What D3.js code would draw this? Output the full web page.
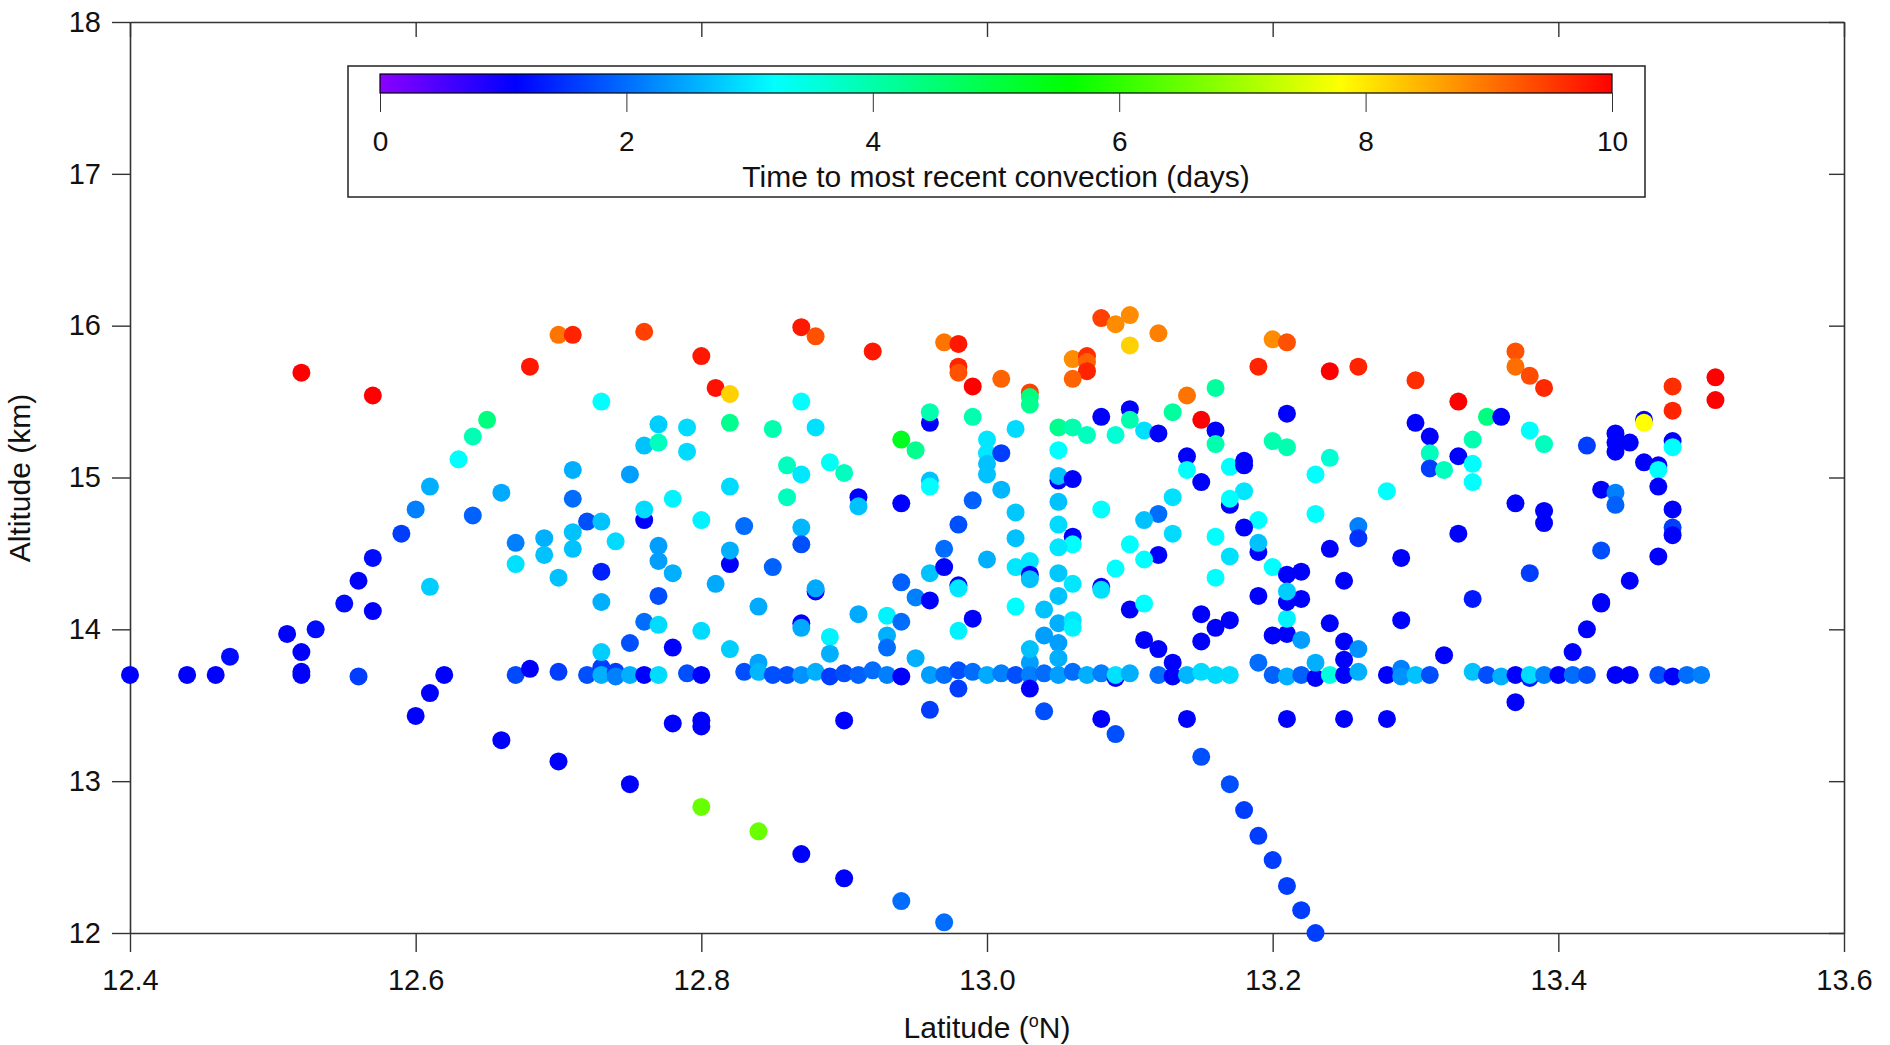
<!DOCTYPE html>
<html>
<head>
<meta charset="utf-8">
<script src="https://cdn.jsdelivr.net/npm/d3@7"></script>
<style>
    body { margin: 0; background: #fff; }
    text { font-family: "Liberation Sans", Arial, sans-serif; fill: #111; }
</style>
</head>
<body>
<div id="chart"></div>
<script>
// latitude (deg N) of each sample
var latitude = [
    12.40, 12.44, 12.46, 12.47, 12.51, 12.53, 12.52, 12.52, 12.52, 12.55,
    12.56, 12.57, 12.57, 12.56, 12.59, 12.60, 12.61, 12.61, 12.64, 12.66,
    12.63, 12.64, 12.65, 12.52, 12.57, 12.68, 12.67, 12.67, 12.69, 12.69,
    12.62, 12.61, 12.60, 12.66, 12.67, 12.68, 12.70, 12.72, 12.73, 12.73,
    12.74, 12.74, 12.75, 12.76, 12.77, 12.79, 12.80, 12.83, 12.84, 12.84,
    12.85, 12.86, 12.87, 12.88, 12.89, 12.90, 12.91, 12.92, 12.93, 12.94,
    12.96, 12.73, 12.75, 12.76, 12.77, 12.78, 12.80, 12.82, 12.84, 12.87,
    12.87, 12.89, 12.89, 12.91, 12.93, 12.93, 12.93, 12.94, 12.95, 12.95,
    12.96, 12.78, 12.80, 12.80, 12.90, 12.96, 12.70, 12.75, 12.80, 12.84,
    12.87, 12.90, 12.94, 12.97, 12.97, 12.98, 12.98, 12.99, 13.00, 13.01,
    13.02, 13.03, 13.03, 13.03, 13.04, 13.05, 13.05, 13.05, 13.06, 13.07,
    13.08, 13.09, 13.09, 13.10, 13.12, 13.13, 13.13, 13.14, 13.15, 13.16,
    13.17, 13.19, 13.20, 13.21, 13.22, 13.23, 13.23, 13.24, 12.98, 12.99,
    13.02, 13.04, 13.05, 13.06, 13.06, 13.04, 13.03, 13.10, 13.11, 13.11,
    13.12, 13.15, 13.16, 13.17, 13.15, 13.19, 13.20, 13.21, 13.21, 13.22,
    13.21, 13.22, 13.24, 13.04, 13.08, 13.09, 13.14, 13.21, 13.25, 13.15,
    13.17, 13.18, 13.19, 13.20, 13.21, 13.22, 13.23, 13.25, 13.25, 13.25,
    13.26, 13.26, 13.29, 13.28, 13.29, 13.29, 13.30, 13.31, 13.32, 13.34,
    13.35, 13.36, 13.37, 13.38, 13.38, 13.39, 13.40, 13.41, 13.42, 13.44,
    13.45, 13.47, 13.48, 13.49, 13.50, 13.37, 13.28, 13.41, 13.42, 13.43,
    13.34, 13.24, 13.26, 13.30, 13.33, 13.37, 13.37, 13.38, 13.39, 13.48,
    13.48, 13.51, 13.51, 13.35, 13.36, 13.30, 13.31, 13.31, 13.31, 13.32,
    13.33, 13.34, 13.34, 13.34, 13.38, 13.39, 13.24, 13.23, 13.23, 13.28,
    13.26, 13.26, 13.24, 13.29, 13.25, 13.33, 13.37, 13.39, 13.39, 13.38,
    13.42, 13.44, 13.44, 13.45, 13.44, 13.46, 13.46, 13.46, 13.47, 13.47,
    13.48, 13.48, 13.43, 13.44, 13.44, 13.47, 13.48, 13.48, 13.48, 13.43,
    13.47, 13.45, 13.43, 12.70, 12.71, 12.76, 12.80, 12.81, 12.82, 12.87,
    12.88, 12.92, 12.73, 12.77, 12.79, 12.76, 12.77, 12.79, 12.82, 12.85,
    12.87, 12.88, 12.96, 12.96, 12.94, 12.95, 12.71, 12.75, 12.71, 12.72,
    12.73, 12.71, 12.71, 12.70, 12.73, 12.73, 12.74, 12.76, 12.76, 12.77,
    12.77, 12.78, 12.78, 12.77, 12.80, 12.81, 12.82, 12.82, 12.82, 12.83,
    12.85, 12.86, 12.87, 12.86, 12.87, 12.87, 12.88, 12.88, 12.89, 12.90,
    12.91, 12.91, 12.94, 12.94, 12.96, 12.96, 12.96, 13.08, 13.09, 13.10,
    13.10, 13.12, 12.97, 12.98, 12.98, 12.98, 12.99, 13.01, 13.06, 13.07,
    13.07, 13.07, 13.06, 13.03, 13.03, 13.03, 13.20, 13.21, 13.19, 13.14,
    13.16, 13.15, 13.13, 13.16, 13.16, 13.20, 13.21, 13.21, 12.99, 13.02,
    13.05, 13.06, 13.07, 13.09, 13.10, 13.10, 13.08, 13.11, 13.12, 13.14,
    13.14, 13.15, 13.17, 13.18, 13.18, 13.18, 13.17, 13.17, 13.13, 13.19,
    13.18, 13.16, 13.13, 13.19, 13.19, 13.17, 13.20, 13.21, 13.22, 13.16,
    13.21, 13.08, 13.12, 13.11, 13.10, 13.12, 13.11, 13.09, 13.08, 13.08,
    13.00, 13.00, 13.01, 13.00, 13.00, 13.01, 12.99, 12.98, 13.02, 13.02,
    12.97, 12.97, 13.00, 13.02, 13.03, 13.03, 13.03, 12.98, 12.98, 13.05,
    13.05, 13.05, 13.06, 13.05, 13.05, 13.06, 13.06, 13.05, 13.05, 13.06, 13.05
];

// altitude (km)
var altitude = [
    13.70, 13.70, 13.70, 13.82, 13.97, 14.00, 13.85, 13.72, 13.70, 14.17,
    14.32, 14.47, 14.12, 13.69, 14.63, 14.79, 14.94, 14.28, 14.75, 14.90,
    15.12, 15.27, 15.38, 15.69, 15.54, 15.73, 14.57, 14.43, 14.60, 14.49,
    13.70, 13.58, 13.43, 13.27, 13.70, 13.74, 13.72, 13.70, 13.75, 13.70,
    13.72, 13.69, 13.70, 13.70, 13.70, 13.71, 13.70, 13.72, 13.78, 13.72,
    13.70, 13.70, 13.70, 13.72, 13.69, 13.71, 13.70, 13.73, 13.70, 13.69,
    13.70, 13.85, 13.91, 14.05, 14.03, 13.88, 13.99, 13.87, 14.15, 14.04,
    14.01, 13.95, 13.84, 14.10, 14.09, 13.96, 13.88, 14.05, 13.81, 14.21,
    14.19, 13.38, 13.40, 13.36, 13.40, 13.47, 13.13, 12.98, 12.83, 12.67,
    12.52, 12.36, 12.21, 12.07, 13.70, 13.73, 13.61, 13.72, 13.70, 13.71,
    13.70, 13.78, 13.70, 13.61, 13.71, 13.91, 13.81, 13.70, 13.72, 13.70,
    13.71, 13.68, 13.70, 13.71, 13.70, 13.78, 13.69, 13.70, 13.72, 13.70,
    13.70, 13.78, 13.70, 13.69, 13.70, 13.68, 13.78, 13.70, 13.99, 14.07,
    14.15, 14.13, 14.04, 14.06, 14.01, 13.96, 13.87, 14.13, 14.17, 13.93,
    13.87, 14.10, 14.01, 14.06, 13.92, 14.22, 13.96, 13.97, 14.07, 13.93,
    14.18, 14.20, 14.04, 13.46, 13.41, 13.31, 13.41, 13.41, 13.41, 13.16,
    12.98, 12.81, 12.64, 12.48, 12.31, 12.15, 12.00, 13.70, 13.80, 13.92,
    13.87, 13.72, 14.06, 13.70, 13.74, 13.69, 13.70, 13.70, 13.83, 13.72,
    13.70, 13.69, 13.70, 13.68, 13.70, 13.70, 13.70, 13.70, 13.70, 13.70,
    13.70, 13.70, 13.69, 13.70, 13.70, 13.52, 13.41, 13.85, 14.00, 14.17,
    14.20, 15.70, 15.73, 15.64, 15.50, 15.83, 15.73, 15.67, 15.59, 15.60,
    15.44, 15.66, 15.51, 15.40, 15.40, 15.36, 15.27, 15.16, 15.06, 15.05,
    15.14, 15.25, 15.09, 14.97, 15.31, 15.22, 15.13, 15.02, 14.76, 14.91,
    14.68, 14.60, 14.53, 14.47, 14.32, 14.63, 14.83, 14.78, 14.70, 14.37,
    15.21, 15.29, 15.17, 15.23, 15.23, 15.38, 15.36, 15.10, 15.08, 15.05,
    15.24, 15.20, 14.92, 14.90, 14.82, 14.94, 14.79, 14.67, 14.62, 14.52,
    14.48, 14.32, 14.18, 15.94, 15.94, 15.96, 15.80, 15.59, 15.55, 15.99,
    15.93, 15.83, 15.50, 15.35, 15.33, 15.21, 15.23, 15.17, 15.36, 15.32,
    15.50, 15.33, 15.36, 15.43, 15.25, 15.18, 15.05, 15.02, 14.86, 14.71,
    14.71, 14.64, 14.53, 14.34, 14.38, 14.18, 14.58, 14.72, 14.79, 14.55,
    14.45, 14.86, 14.37, 14.22, 14.72, 14.30, 14.94, 14.43, 14.52, 14.68,
    14.41, 15.08, 15.02, 14.87, 14.67, 14.56, 14.25, 14.27, 15.10, 15.03,
    14.87, 14.81, 14.83, 14.31, 14.37, 14.98, 14.94, 16.05, 16.01, 16.07,
    15.87, 15.95, 15.89, 15.88, 15.73, 15.69, 15.60, 15.65, 15.78, 15.80,
    15.76, 15.70, 15.65, 15.56, 15.53, 15.48, 15.91, 15.89, 15.73, 15.54,
    15.59, 15.38, 15.43, 15.31, 15.22, 15.24, 15.20, 15.42, 15.40, 15.32,
    15.33, 15.33, 15.28, 15.28, 15.45, 15.38, 15.40, 15.31, 15.29, 15.14,
    15.05, 14.97, 15.07, 15.11, 15.08, 14.91, 14.82, 14.86, 14.87, 14.72,
    14.67, 14.61, 14.63, 14.51, 14.57, 14.48, 14.41, 14.36, 14.38, 14.34,
    14.25, 14.79, 14.76, 14.72, 14.56, 14.49, 14.46, 14.40, 14.28, 14.26,
    15.25, 15.16, 15.16, 15.09, 15.02, 14.92, 14.85, 14.69, 14.77, 14.60,
    14.53, 14.41, 14.46, 14.41, 14.45, 14.36, 14.33, 14.29, 14.27, 15.18,
    14.98, 15.01, 14.99, 14.84, 14.69, 14.61, 14.56, 14.54, 14.37, 14.30, 14.22
];

// time to most recent convection (days)
var days = [
    1.1, 1.1, 1.1, 1.2, 1.1, 1.2, 1.1, 1.1, 1.1, 1.2,
    1.1, 1.2, 1.1, 1.6, 1.6, 2.15, 2.55, 2.8, 1.9, 2.5,
    3.2, 3.9, 4.4, 10, 10, 9.8, 2.15, 2.95, 2.55, 2.7,
    1.1, 1.1, 1.1, 1.1, 1.7, 1.1, 1.6, 1.75, 1.6, 2.55,
    1.6, 2.15, 2.55, 1.1, 2.9, 1.75, 1.1, 1.75, 2.45, 2.6,
    1.75, 1.75, 2.3, 2.55, 1.6, 1.75, 1.9, 2.0, 2.15, 1.1,
    2.4, 2.8, 1.75, 2.0, 2.9, 1.1, 2.9, 2.8, 2.5, 1.1,
    2.5, 3.1, 2.55, 2.5, 3.1, 2.55, 2.0, 2.0, 2.55, 2.15,
    1.1, 1.1, 1.1, 1.1, 1.1, 1.6, 1.1, 1.1, 6.5, 6.5,
    1.1, 1.1, 2.0, 2.0, 2.0, 1.75, 1.6, 2.0, 2.5, 2.15,
    1.75, 2.4, 2.15, 1.1, 2.0, 2.4, 2.55, 2.4, 2.0, 2.55,
    2.15, 1.1, 2.95, 2.55, 2.0, 1.1, 1.1, 2.6, 2.9, 2.9,
    2.9, 2.0, 1.9, 2.55, 1.9, 1.1, 2.55, 3.5, 3.1, 1.1,
    3.2, 2.7, 2.55, 3.0, 3.1, 2.4, 2.7, 1.1, 3.2, 1.1,
    1.1, 1.1, 1.1, 1.1, 1.1, 1.1, 1.1, 1.1, 3.1, 2.4,
    1.1, 1.1, 1.1, 1.75, 1.1, 1.75, 1.1, 1.1, 1.1, 1.75,
    1.75, 1.6, 1.6, 1.6, 1.6, 1.6, 1.6, 1.1, 1.1, 1.1,
    2.3, 2.55, 1.1, 1.1, 2.15, 2.3, 2.7, 1.75, 1.1, 2.7,
    1.75, 2.55, 1.1, 1.3, 2.9, 2.15, 1.1, 2.0, 1.75, 1.1,
    1.1, 1.75, 1.1, 2.0, 2.15, 1.1, 1.1, 1.1, 1.1, 1.1,
    1.3, 10, 9.7, 9.6, 10, 9.3, 9.05, 9.35, 9.65, 9.6,
    9.7, 10, 10, 4.4, 1.1, 1.1, 1.1, 3.8, 1.6, 3.8,
    1.1, 3.95, 3.2, 3.2, 3.2, 3.8, 3.6, 3.2, 3.2, 3.2,
    2.15, 1.5, 1.1, 1.1, 1.1, 1.1, 1.1, 1.1, 1.1, 1.6,
    1.6, 1.1, 1.1, 1.1, 1.1, 1.1, 7.8, 1.1, 1.1, 3.2,
    1.1, 3.2, 1.1, 2.15, 1.9, 1.1, 1.1, 1.6, 1.1, 1.75,
    1.1, 1.1, 1.1, 9.0, 9.7, 9.45, 9.8, 9.86, 8.2, 9.8,
    9.3, 9.8, 3.2, 2.8, 2.9, 2.7, 3.8, 2.9, 4.25, 3.95,
    3.2, 2.95, 1.1, 3.95, 5.3, 4.25, 2.55, 2.4, 2.0, 1.75,
    2.7, 2.7, 2.7, 2.7, 1.36, 2.55, 2.9, 1.1, 2.9, 2.4,
    2.4, 3.1, 2.55, 1.75, 3.1, 2.5, 2.9, 1.1, 2.55, 2.0,
    1.9, 3.8, 3.0, 3.8, 2.6, 1.75, 1.1, 2.5, 3.3, 3.8,
    1.1, 2.7, 1.1, 1.9, 2.7, 2.7, 3.2, 9.45, 8.8, 8.8,
    8.2, 8.9, 9.0, 9.8, 9.7, 9.3, 10, 9.15, 8.8, 9.6,
    9.15, 9.7, 9.15, 9.45, 4.4, 4.25, 8.8, 9.3, 9.7, 9.0,
    4.1, 10, 4.1, 1.1, 3.95, 3.95, 3.95, 1.1, 3.95, 2.9,
    4.25, 3.95, 3.8, 3.6, 1.1, 3.95, 1.1, 2.95, 1.1, 1.1,
    3.2, 1.1, 3.2, 1.1, 1.1, 3.0, 1.1, 3.2, 2.95, 3.2,
    1.1, 3.2, 2.9, 1.1, 2.7, 2.95, 3.2, 1.1, 1.1, 3.2,
    2.8, 3.2, 2.0, 2.7, 3.2, 1.1, 3.2, 3.2, 1.1, 2.95,
    3.0, 3.0, 1.6, 2.7, 2.7, 2.6, 1.9, 1.75, 2.75, 2.7,
    2.0, 1.1, 2.55, 3.0, 3.0, 1.1, 2.7, 1.1, 3.0, 3.2,
    1.1, 2.7, 1.1, 2.7, 2.9, 1.1, 3.2, 3.0, 2.75, 3.0, 2.7
];

var latTicks = [12.4, 12.6, 12.8, 13.0, 13.2, 13.4, 13.6];
var altTicks = [12, 13, 14, 15, 16, 17, 18];
var dayTicks = [0, 2, 4, 6, 8, 10];

// rainbow colour table, value -> colour
var colorStops = [0, 1.1, 3.2, 5.6, 7.8, 10];
var colorRange = ["#8b00ff", "#0000ff", "#00ffff", "#00ff00", "#ffff00", "#ff0000"];

function styleAxis(g, size) {
    g.select(".domain").attr("stroke", "#333").attr("stroke-width", 1.6);
    g.selectAll(".tick line").attr("stroke", "#333").attr("stroke-width", 1.4);
    g.selectAll(".tick text")
        .attr("font-family", "'Liberation Sans', Arial, sans-serif")
        .attr("font-size", size)
        .attr("fill", "#111");
}

function drawChart() {
    var w = 1890;
    var h = 1045;
    var margin = {top: 22, right: 46, bottom: 112, left: 130};

    var svg = d3.select("#chart")
            .append("svg")
            .attr("width", w)
            .attr("height", h);

    var x = d3.scaleLinear().domain([12.4, 13.6]).range([margin.left, w - margin.right]);
    var y = d3.scaleLinear().domain([12, 18]).range([h - margin.bottom, margin.top]);
    var color = d3.scaleLinear().domain(colorStops).range(colorRange).clamp(true);

    // frame: bottom and left labelled, top and right with inward ticks
    svg.append("g")
        .attr("transform", "translate(0," + y(12) + ")")
        .call(d3.axisBottom(x).tickValues(latTicks).tickFormat(d3.format(".1f"))
            .tickSize(19).tickSizeOuter(0).tickPadding(17))
        .call(styleAxis, 29);

    svg.append("g")
        .attr("transform", "translate(" + x(12.4) + ",0)")
        .call(d3.axisLeft(y).tickValues(altTicks).tickFormat(d3.format("d"))
            .tickSize(18).tickSizeOuter(0).tickPadding(11))
        .call(styleAxis, 29);

    svg.append("g")
        .attr("transform", "translate(0," + y(18) + ")")
        .call(d3.axisTop(x).tickValues(latTicks).tickFormat("").tickSize(-15).tickSizeOuter(0))
        .call(styleAxis, 29);

    svg.append("g")
        .attr("transform", "translate(" + x(13.6) + ",0)")
        .call(d3.axisRight(y).tickValues(altTicks).tickFormat("").tickSize(-15).tickSizeOuter(0))
        .call(styleAxis, 29);

    // axis titles
    var xt = svg.append("text")
        .attr("x", (x(12.4) + x(13.6)) / 2)
        .attr("y", 1038)
        .attr("text-anchor", "middle")
        .attr("font-size", 30)
        .text("Latitude (");
    xt.append("tspan").attr("font-size", 18).attr("dy", -11).text("o");
    xt.append("tspan").attr("dy", 11).text("N)");

    svg.append("text")
        .attr("transform", "translate(30," + 478 + ") rotate(-90)")
        .attr("text-anchor", "middle")
        .attr("font-size", 30)
        .text("Altitude (km)");

    // colour bar legend
    var cb = d3.scaleLinear().domain([0, 10]).range([380, 1612]);

    var grad = svg.append("defs").append("linearGradient")
        .attr("id", "rainbow")
        .attr("x1", "0%").attr("x2", "100%").attr("y1", "0%").attr("y2", "0%");
    grad.selectAll("stop")
        .data(d3.range(0, 10.001, 0.1))
        .enter()
        .append("stop")
        .attr("offset", function(d) { return (d * 10) + "%"; })
        .attr("stop-color", function(d) { return color(d); });

    svg.append("rect")
        .attr("x", 348).attr("y", 66)
        .attr("width", 1297).attr("height", 131)
        .attr("fill", "#fff")
        .attr("stroke", "#222")
        .attr("stroke-width", 1.5);

    svg.append("rect")
        .attr("x", cb(0)).attr("y", 74)
        .attr("width", cb(10) - cb(0)).attr("height", 19)
        .attr("fill", "url(#rainbow)")
        .attr("stroke", "#000")
        .attr("stroke-width", 1.2);

    var cbAxis = svg.append("g")
        .attr("transform", "translate(0,93)")
        .call(d3.axisBottom(cb).tickValues(dayTicks).tickSize(19).tickSizeOuter(0).tickPadding(19))
        .call(styleAxis, 28);
    cbAxis.select(".domain").remove();
    cbAxis.selectAll(".tick line").attr("stroke-width", 1);

    svg.append("text")
        .attr("x", (cb(0) + cb(10)) / 2)
        .attr("y", 187)
        .attr("text-anchor", "middle")
        .attr("font-size", 30)
        .text("Time to most recent convection (days)");

    // sample points
    svg.append("g")
        .selectAll("circle")
        .data(latitude)
        .enter()
        .append("circle")
        .attr("cx", function(d) { return x(d); })
        .attr("cy", function(d, i) { return y(altitude[i]); })
        .attr("r", 9)
        .attr("fill", function(d, i) { return color(days[i]); });
}

window.onload = drawChart;
</script>
</body>
</html>
